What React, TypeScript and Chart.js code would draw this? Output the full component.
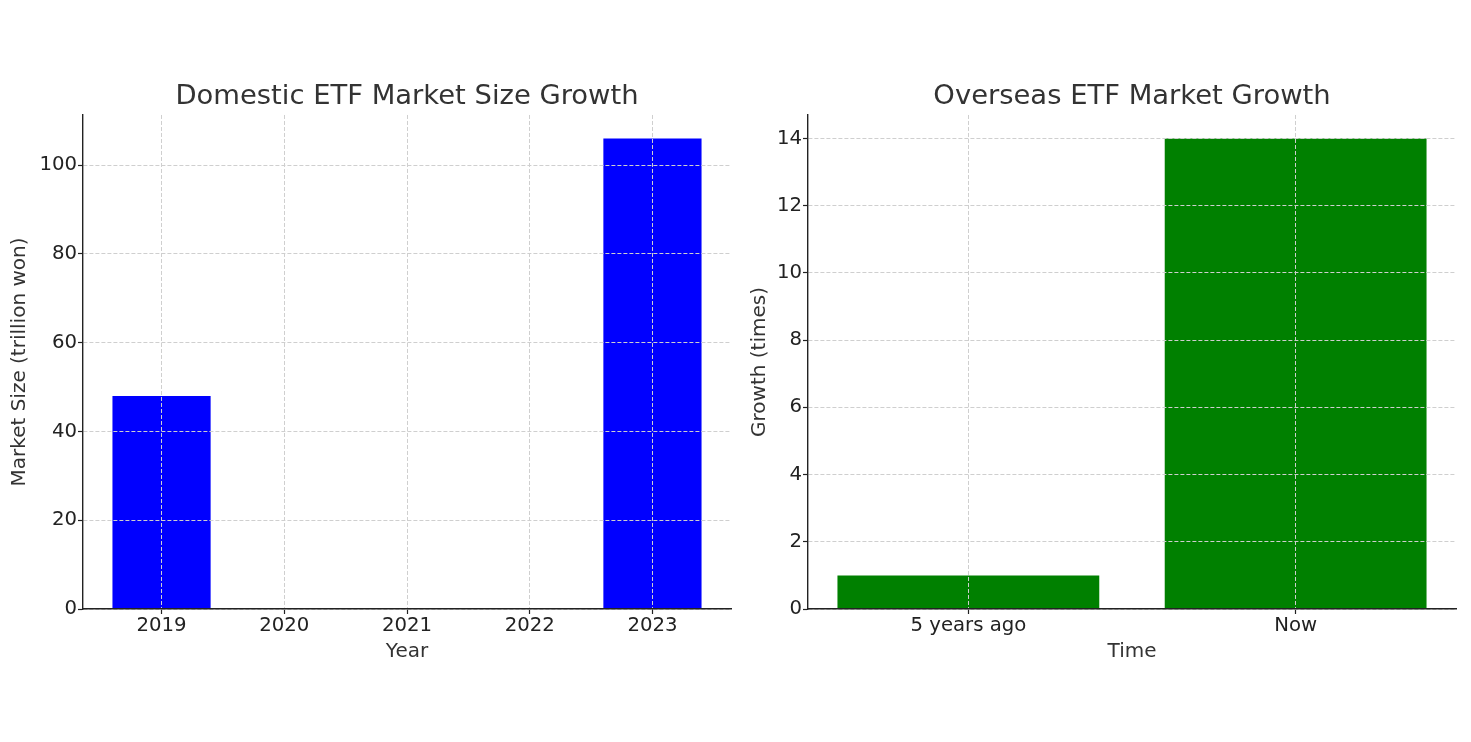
import React, { useEffect, useRef } from "react";
import { Chart, registerables } from "chart.js";

Chart.register(...registerables);

// ---- data ----
const years = ["2019", "2020", "2021", "2022", "2023"];
const marketSize: (number | null)[] = [48, null, null, null, 106];
const periods = ["5 years ago", "Now"];
const growth = [1, 14];
const leftYTicks = [0, 20, 40, 60, 80, 100];
const rightYTicks = [0, 2, 4, 6, 8, 10, 12, 14];

const FAMILY = "'DejaVu Sans', sans-serif";
const TICK_FONT = { family: FAMILY, size: 19.7 };
const LABEL_FONT = { family: FAMILY, size: 20 };
const TITLE_FONT = { family: FAMILY, size: 27.4, weight: "normal" as const };

type Params = {
  labels: string[];
  values: (number | null)[];
  color: string;
  yTicks: number[];
  xMin: number;
  xMax: number;
  yMax: number;
  title: string;
  xTitle: string;
  yTitle: string;
  yWidth: number;
  yTitlePad: number;
  padRight: number;
};

function buildConfig(p: Params): any {
  const gridCommon = {
    color: "#cfcfcf",
    lineWidth: 1,
    z: 1,
    tickLength: 5,
    tickColor: "#222",
    tickWidth: 1.2,
    offset: false,
  };
  const borderCommon = { display: true, color: "#222", width: 1.4, dash: [4, 2], z: 2 };
  return {
    type: "bar",
    data: {
      datasets: [
        {
          data: p.values.map((v, i) => ({ x: i, y: v })),
          backgroundColor: p.color,
          borderWidth: 0,
          barPercentage: 0.8,
          categoryPercentage: 1,
        },
      ],
    },
    options: {
      responsive: false,
      maintainAspectRatio: false,
      animation: false,
      layout: { padding: { top: 80.1, left: 0, right: p.padRight, bottom: 78.3 } },
      plugins: {
        legend: { display: false },
        tooltip: { enabled: false },
        title: {
          display: true,
          text: p.title,
          fullSize: false,
          color: "#333",
          font: TITLE_FONT,
          padding: { top: 0, bottom: 2 },
        },
      },
      scales: {
        x: {
          type: "linear",
          offset: false,
          min: p.xMin,
          max: p.xMax,
          afterBuildTicks: (s: any) => {
            s.ticks = p.labels.map((_, i) => ({ value: i }));
          },
          afterFit: (s: any) => {
            s.height = 54.7;
          },
          ticks: {
            callback: (v: any) => p.labels[Math.round(Number(v))],
            color: "#222",
            font: TICK_FONT,
            padding: 0,
            maxRotation: 0,
            autoSkip: false,
          },
          grid: gridCommon,
          border: borderCommon,
          title: {
            display: true,
            text: p.xTitle,
            color: "#333",
            font: LABEL_FONT,
            padding: { top: 0, bottom: 0 },
          },
        },
        y: {
          type: "linear",
          min: 0,
          max: p.yMax,
          afterBuildTicks: (s: any) => {
            s.ticks = p.yTicks.map((v) => ({ value: v }));
          },
          afterFit: (s: any) => {
            s.width = p.yWidth;
          },
          ticks: {
            color: "#222",
            font: TICK_FONT,
            padding: 1,
          },
          grid: gridCommon,
          border: borderCommon,
          title: {
            display: true,
            text: p.yTitle,
            color: "#333",
            font: LABEL_FONT,
            padding: { top: p.yTitlePad, bottom: 0 },
          },
        },
      },
    },
  };
}

function BarPanel({ params, left, width }: { params: Params; left: number; width: number }) {
  const ref = useRef<HTMLCanvasElement | null>(null);
  useEffect(() => {
    if (!ref.current) return;
    const chart = new Chart(ref.current, buildConfig(params));
    return () => chart.destroy();
  }, []);
  return (
    <canvas
      ref={ref}
      width={width}
      height={742}
      style={{ position: "absolute", left, top: 0, width, height: 742 }}
    />
  );
}

export default function App() {
  const leftParams: Params = {
    labels: years,
    values: marketSize,
    color: "#0000ff",
    yTicks: leftYTicks,
    xMin: -0.64,
    xMax: 4.64,
    yMax: 111.3,
    title: "Domestic ETF Market Size Growth",
    xTitle: "Year",
    yTitle: "Market Size (trillion won)",
    yWidth: 83,
    yTitlePad: 7.5,
    padRight: 4,
  };
  const rightParams: Params = {
    labels: periods,
    values: growth,
    color: "#008000",
    yTicks: rightYTicks,
    xMin: -0.49,
    xMax: 1.49,
    yMax: 14.7,
    title: "Overseas ETF Market Growth",
    xTitle: "Time",
    yTitle: "Growth (times)",
    yWidth: 73,
    yTitlePad: 12.3,
    padRight: 15,
  };
  return (
    <div
      style={{
        position: "fixed",
        left: 0,
        top: 0,
        width: 1471,
        height: 742,
        background: "#fff",
        overflow: "hidden",
      }}
    >
      <BarPanel params={leftParams} left={0} width={735} />
      <BarPanel params={rightParams} left={735} width={736} />
    </div>
  );
}
